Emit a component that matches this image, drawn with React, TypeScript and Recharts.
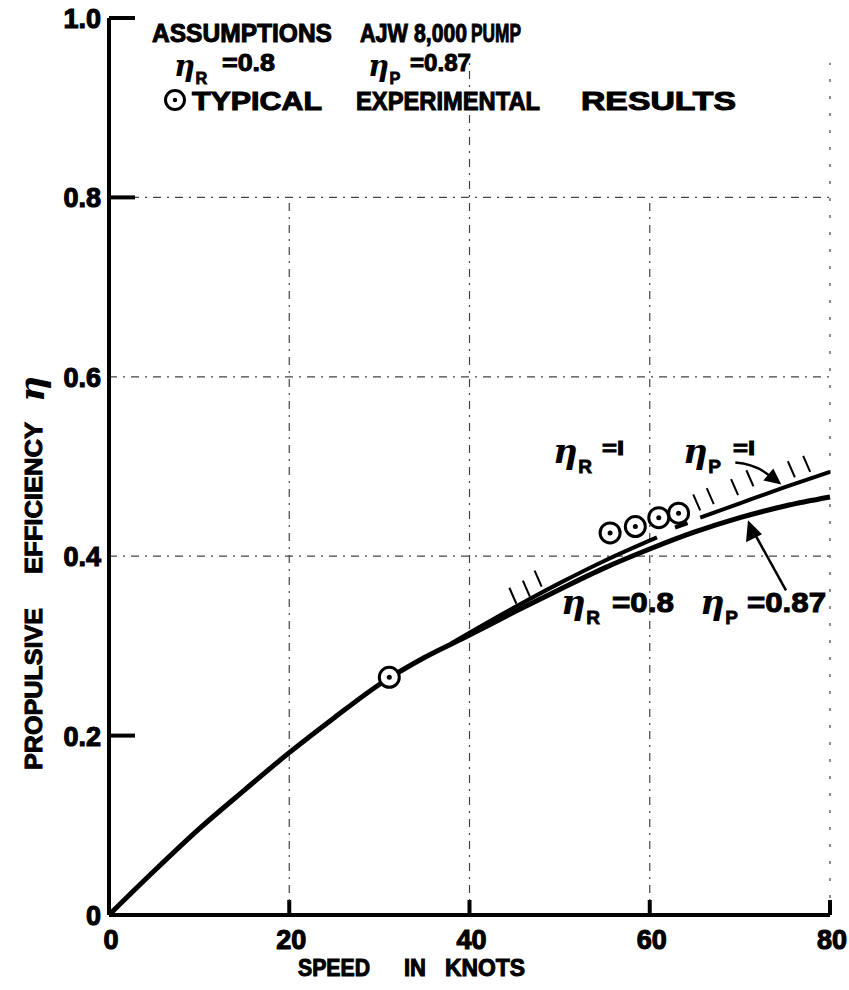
import { ComposedChart, Line, Scatter, XAxis, YAxis, ReferenceLine, ReferenceDot } from "recharts";

// lower (design) curve: eta_R = 0.8, eta_P = 0.87
const speedBase = [0, 5, 10, 15, 20, 25, 30, 35, 40, 45, 50, 55, 60, 65, 70, 75, 80];
const etaBase = [0, 0.049, 0.096, 0.139, 0.181, 0.22, 0.257, 0.287, 0.312, 0.338, 0.363, 0.387, 0.408, 0.427, 0.443, 0.456, 0.466];

// upper (ideal) curve: eta_R = 1, eta_P = 1, drawn in broken pieces
const speedIdealA = [38, 45, 50, 55, 60.8];
const etaIdealA = [0.303, 0.343, 0.37, 0.395, 0.421];
const speedIdealB = [62.8, 64.2];
const etaIdealB = [0.432, 0.437];
const speedIdealC = [65.6, 70, 75, 80];
const etaIdealC = [0.443, 0.459, 0.477, 0.494];

// typical experimental results
const expSpeed = [31.1, 55.6, 58.4, 61.0, 63.2];
const expEta = [0.265, 0.426, 0.433, 0.443, 0.448];

// hatch marks above the ideal curve
const hatchSpeed = [45.2, 46.7, 48.0, 65.6, 67.1, 69.8, 71.5, 76.1, 77.8];
const hatchEta = [0.347, 0.355, 0.366, 0.451, 0.458, 0.468, 0.478, 0.488, 0.494];

const xTicks = [0, 20, 40, 60, 80];
const yTicks = [0, 0.2, 0.4, 0.6, 0.8, 1.0];
const gridEta = [0.4, 0.6, 0.8];
const gridSpeed = [20, 40, 60, 80];
const gridTop = [0.8, 0.95, 0.8, 0.95];

const zip = (xs: number[], ys: number[]) => xs.map((x, i) => ({ x, y: ys[i] }));

const baseData = zip(speedBase, etaBase);
const idealA = zip(speedIdealA, etaIdealA);
const idealB = zip(speedIdealB, etaIdealB);
const idealC = zip(speedIdealC, etaIdealC);
const expData = zip(expSpeed, expEta);
const hatchData = zip(hatchSpeed, hatchEta);

const FONT = "'Liberation Sans', Arial, sans-serif";
const ETA = "'DejaVu Serif', serif";

const XTick = (p: any) => {
  const { x, y, payload } = p;
  const v = payload.value;
  return (
    <g>
      {v !== 0 && <line x1={x} y1={y} x2={x} y2={y - 15} stroke="#000" strokeWidth={4} />}
      <text x={x + 2} y={y + 34} textAnchor="middle" fontSize={27} fontWeight={700} fontFamily={FONT} stroke="#000" strokeWidth={1.1}>
        {v}
      </text>
    </g>
  );
};

const YTick = (p: any) => {
  const { x, y, payload } = p;
  const v = payload.value;
  const showTick = v === 0.2 || v === 0.8 || v === 1;
  return (
    <g>
      {showTick && <line x1={x} y1={y} x2={x + 26} y2={y} stroke="#000" strokeWidth={4} />}
      <text x={x - 8} y={y + 10} textAnchor="end" fontSize={27} fontWeight={700} fontFamily={FONT} stroke="#000" strokeWidth={1.1}>
        {v === 0 ? "0" : v.toFixed(1)}
      </text>
    </g>
  );
};

const Word = ({ x, y, w, s = 25, children }: any) => (
  <text x={x} y={y} fontSize={s} fontWeight={700} fontFamily={FONT} textLength={w} lengthAdjust="spacingAndGlyphs" stroke="#000" strokeWidth={1}>
    {children}
  </text>
);

const Eta = ({ x, y, sub, s = 34, d = 10 }: any) => (
  <g>
    <text x={x} y={y} fontSize={s} fontStyle="italic" fontWeight={700} fontFamily={ETA}>η</text>
    <text x={x + s * 0.74} y={y + d} fontSize={s * 0.56} fontWeight={700} fontFamily={FONT} stroke="#000" strokeWidth={0.8}>{sub}</text>
  </g>
);

const ExpMark = (p: any) => (
  <g>
    <circle cx={p.cx} cy={p.cy} r={10} fill="#fff" stroke="#000" strokeWidth={3} />
    <circle cx={p.cx} cy={p.cy} r={2.5} fill="#000" />
  </g>
);

const Hatch = (p: any) => (
  <line x1={p.cx} y1={p.cy} x2={p.cx - 7} y2={p.cy - 16} stroke="#000" strokeWidth={2} />
);

// text block anchored at the plot origin (0, 0)
const Notes = (p: any) => (
  <g transform={`translate(${p.cx - 109},${p.cy - 915})`}>
    <Word x={152} y={42} w={180}>ASSUMPTIONS</Word>
    <Word x={360} y={42} w={48}>AJW</Word>
    <Word x={414} y={42} w={53}>8,000</Word>
    <Word x={471} y={42} w={50}>PUMP</Word>

    <Eta x={174} y={76} sub="R" s={29} d={8} />
    <Word x={222} y={71} w={53} s={24}>=0.8</Word>
    <Eta x={368} y={76} sub="P" s={29} d={8} />
    <Word x={410} y={71} w={61} s={24}>=0.87</Word>

    <circle cx={175} cy={100} r={9.5} fill="none" stroke="#000" strokeWidth={3} />
    <circle cx={175} cy={100} r={2.2} fill="#000" />
    <Word x={192} y={110} w={130}>TYPICAL</Word>
    <Word x={356} y={110} w={184}>EXPERIMENTAL</Word>
    <Word x={581} y={110} w={155}>RESULTS</Word>

    <Eta x={553} y={463} sub="R" s={34} />
    <Word x={602} y={455} w={22} s={21}>=I</Word>
    <Eta x={683} y={463} sub="P" s={34} />
    <Word x={733} y={455} w={22} s={21}>=I</Word>

    <Eta x={561} y={614} sub="R" s={34} />
    <Word x={612} y={612} w={62} s={28}>=0.8</Word>
    <Eta x={700} y={614} sub="P" s={34} />
    <Word x={747} y={612} w={79} s={28}>=0.87</Word>

    <Word x={298} y={976} w={72} s={23}>SPEED</Word>
    <Word x={404} y={976} w={22} s={23}>IN</Word>
    <Word x={445} y={976} w={80} s={23}>KNOTS</Word>

    <g transform="translate(42,770) rotate(-90)">
      <Word x={0} y={0} w={162} s={24}>PROPULSIVE</Word>
      <Word x={196} y={0} w={152} s={24}>EFFICIENCY</Word>
      <text x={368} y={2} fontSize={36} fontStyle="italic" fontWeight={700} fontFamily={ETA}>η</text>
    </g>
  </g>
);

const ArrowUp = (p: any) => (
  <g>
    <path d={`M${p.cx - 46},${p.cy - 22} Q${p.cx - 22},${p.cy - 20} ${p.cx - 8},${p.cy - 5}`} fill="none" stroke="#000" strokeWidth={2.5} />
    <polygon points={`${p.cx},${p.cy} ${p.cx - 18},${p.cy - 4} ${p.cx - 8},${p.cy - 16}`} fill="#000" />
  </g>
);

const ArrowDown = (p: any) => (
  <g>
    <line x1={p.cx + 38} y1={p.cy + 70} x2={p.cx + 7} y2={p.cy + 14} stroke="#000" strokeWidth={2.5} />
    <polygon points={`${p.cx},${p.cy} ${p.cx - 2},${p.cy + 22} ${p.cx + 14},${p.cy + 14}`} fill="#000" />
  </g>
);

export default function App() {
  return (
    <div style={{ position: "absolute", left: 0, top: 0, background: "#fff" }}>
      <ComposedChart width={849} height={990} margin={{ top: 18, right: 19, bottom: 0, left: 0 }}>
        <XAxis
          type="number"
          dataKey="x"
          domain={[0, 80]}
          ticks={xTicks}
          height={75}
          tickSize={0}
          tickMargin={0}
          tickLine={false}
          axisLine={{ stroke: "#000", strokeWidth: 4 }}
          tick={<XTick />}
        />
        <YAxis
          type="number"
          dataKey="y"
          domain={[0, 1]}
          ticks={yTicks}
          width={109}
          tickSize={0}
          tickMargin={0}
          tickLine={false}
          axisLine={{ stroke: "#000", strokeWidth: 4 }}
          tick={<YTick />}
        />
        {gridEta.map((v) => (
          <ReferenceLine key={"h" + v} y={v} stroke="#444" strokeWidth={1.2} strokeDasharray="8 6 2 6" />
        ))}
        {gridSpeed.map((v, i) => (
          <ReferenceLine
            key={"v" + v}
            segment={[{ x: v, y: 0 }, { x: v, y: gridTop[i] }]}
            stroke="#444"
            strokeWidth={1.2}
            strokeDasharray={v === 80 ? "3 14" : "8 6 2 6"}
          />
        ))}
        <Line data={baseData} dataKey="y" type="monotone" stroke="#000" strokeWidth={5} dot={false} isAnimationActive={false} />
        <Line data={idealA} dataKey="y" type="monotone" stroke="#000" strokeWidth={4} dot={false} isAnimationActive={false} />
        <Line data={idealB} dataKey="y" type="linear" stroke="#000" strokeWidth={4} dot={false} isAnimationActive={false} />
        <Line data={idealC} dataKey="y" type="monotone" stroke="#000" strokeWidth={4} dot={false} isAnimationActive={false} />
        <Scatter data={hatchData} dataKey="y" shape={<Hatch />} isAnimationActive={false} />
        <Scatter data={expData} dataKey="y" shape={<ExpMark />} isAnimationActive={false} />
        <ReferenceDot x={74.6} y={0.48} ifOverflow="visible" shape={<ArrowUp />} />
        <ReferenceDot x={70.9} y={0.44} ifOverflow="visible" shape={<ArrowDown />} />
        <ReferenceDot x={0} y={0} ifOverflow="visible" shape={<Notes />} />
      </ComposedChart>
    </div>
  );
}
